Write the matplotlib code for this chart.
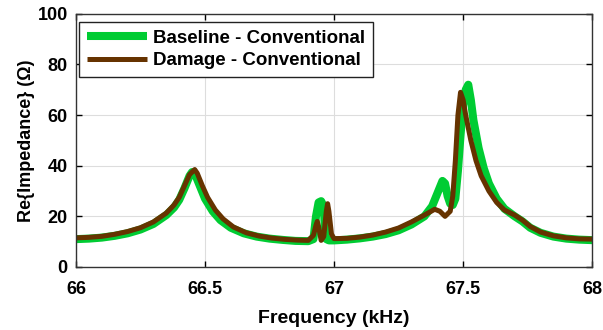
import matplotlib
matplotlib.use("Agg")
from matplotlib import pyplot as plt

# baseline (green) readings, kHz / ohm
base_f = [66.00, 66.05, 66.10, 66.15, 66.20, 66.25, 66.30, 66.35, 66.38, 66.40,
          66.42, 66.44, 66.45, 66.46, 66.48, 66.50, 66.53, 66.56, 66.60, 66.65,
          66.70, 66.75, 66.80, 66.85, 66.90, 66.92, 66.93, 66.94, 66.95, 66.96,
          66.965, 66.97, 66.98, 67.00, 67.05, 67.10, 67.15, 67.20, 67.25, 67.30,
          67.35, 67.38, 67.40, 67.42, 67.43, 67.44, 67.45, 67.46, 67.47, 67.48,
          67.49, 67.50, 67.51, 67.52, 67.53, 67.54, 67.56, 67.58, 67.60, 67.63,
          67.66, 67.70, 67.73, 67.76, 67.80, 67.85, 67.90, 67.95, 68.00]
base_z = [11.0, 11.2, 11.6, 12.3, 13.3, 14.8, 17.0, 20.5, 23.5, 26.5,
          31.0, 36.0, 37.5, 37.0, 32.0, 27.0, 22.0, 18.5, 15.5, 13.3,
          12.0, 11.2, 10.7, 10.3, 10.2, 11.0, 20.0, 25.5, 26.0, 24.0,
          14.0, 11.0, 10.5, 10.5, 10.8, 11.3, 12.0, 13.0, 14.5, 16.8,
          20.0, 24.0, 29.0, 34.0, 33.0, 28.0, 25.0, 24.5, 27.0, 38.0,
          52.0, 64.0, 70.0, 72.0, 66.0, 58.0, 47.0, 39.0, 33.0, 27.0,
          23.0, 20.0, 18.0, 15.5, 13.5, 12.0, 11.2, 10.8, 10.6]

# damage (brown) readings
dmg_f = [66.00, 66.05, 66.10, 66.15, 66.20, 66.25, 66.30, 66.35, 66.38, 66.40,
         66.42, 66.44, 66.46, 66.47, 66.49, 66.51, 66.54, 66.57, 66.61, 66.66,
         66.71, 66.76, 66.81, 66.86, 66.90, 66.92, 66.93, 66.935, 66.94, 66.95,
         66.96, 66.97, 66.975, 66.98, 66.99, 67.00, 67.05, 67.10, 67.15, 67.20,
         67.25, 67.30, 67.35, 67.39, 67.41, 67.43, 67.45, 67.46, 67.47, 67.48,
         67.49, 67.50, 67.51, 67.53, 67.55, 67.57, 67.60, 67.63, 67.66, 67.70,
         67.73, 67.76, 67.80, 67.85, 67.90, 67.95, 68.00]
dmg_z = [11.5, 11.7, 12.1, 12.9, 14.0, 15.5, 17.8, 21.3, 24.5, 27.5,
         32.0, 36.5, 38.5, 37.0, 32.0, 27.5, 22.5, 19.0, 15.8, 13.5,
         12.2, 11.4, 10.9, 10.6, 10.5, 12.5, 16.5, 18.0, 16.0, 10.5,
         12.0, 22.0, 25.0, 22.0, 13.0, 11.2, 11.3, 11.8, 12.6, 13.8,
         15.4, 17.8, 20.5, 22.8, 22.0, 20.0, 22.0, 28.0, 42.0, 60.0,
         69.0, 66.0, 60.0, 50.0, 42.0, 36.0, 30.0, 25.5, 22.5, 20.5,
         18.5, 16.0, 13.8, 12.3, 11.5, 11.1, 11.0]

x_ticks = [66, 66.5, 67, 67.5, 68]
x_labels = ["66", "66.5", "67", "67.5", "68"]
y_ticks = [0, 20, 40, 60, 80, 100]

plt.rcParams['font.family'] = ['Liberation Sans', 'DejaVu Sans']

fig = plt.figure(figsize=(6.03, 3.3), dpi=100)
ax = fig.add_axes([0.126, 0.191, 0.856, 0.767])

ax.plot(base_f, base_z, color="#00cc33", lw=5.8, label="Baseline - Conventional",
        solid_joinstyle="round", solid_capstyle="round")
ax.plot(dmg_f, dmg_z, color="#663300", lw=3.6, label="Damage - Conventional",
        solid_joinstyle="round", solid_capstyle="round")

ax.set_xlim(66, 68)
ax.set_ylim(0, 100)
ax.set_xticks(x_ticks)
ax.set_xticklabels(x_labels)
ax.set_yticks(y_ticks)
ax.grid(True, color="#dddddd", lw=0.8)
ax.set_axisbelow(True)
ax.tick_params(direction="in", top=True, right=True, length=4, width=1,
               labelsize=13)
ax.tick_params(axis="x", pad=10)
ax.tick_params(axis="y", pad=6)
for lab in ax.get_xticklabels() + ax.get_yticklabels():
    lab.set_fontweight("bold")
for sp in ax.spines.values():
    sp.set_color("#333333")
    sp.set_linewidth(1.0)

ax.set_xlabel("Frequency (kHz)", fontsize=14, fontweight="bold", labelpad=9)
ax.set_ylabel("Re{Impedance} (\u03a9)", fontsize=13, fontweight="bold", labelpad=2)

leg = ax.legend(loc="upper left", bbox_to_anchor=(0.006, 0.968), borderaxespad=0,
                fontsize=13.5, frameon=True, fancybox=False, framealpha=1,
                handlelength=3.2, handletextpad=0.35, borderpad=0.4,
                labelspacing=0.3)
leg.get_frame().set_edgecolor("#222222")
leg.get_frame().set_linewidth(1.0)
for t in leg.get_texts():
    t.set_fontweight("bold")
for h in leg.get_lines():
    h.set_solid_capstyle("butt")

fig.savefig("out.png", dpi=100)
